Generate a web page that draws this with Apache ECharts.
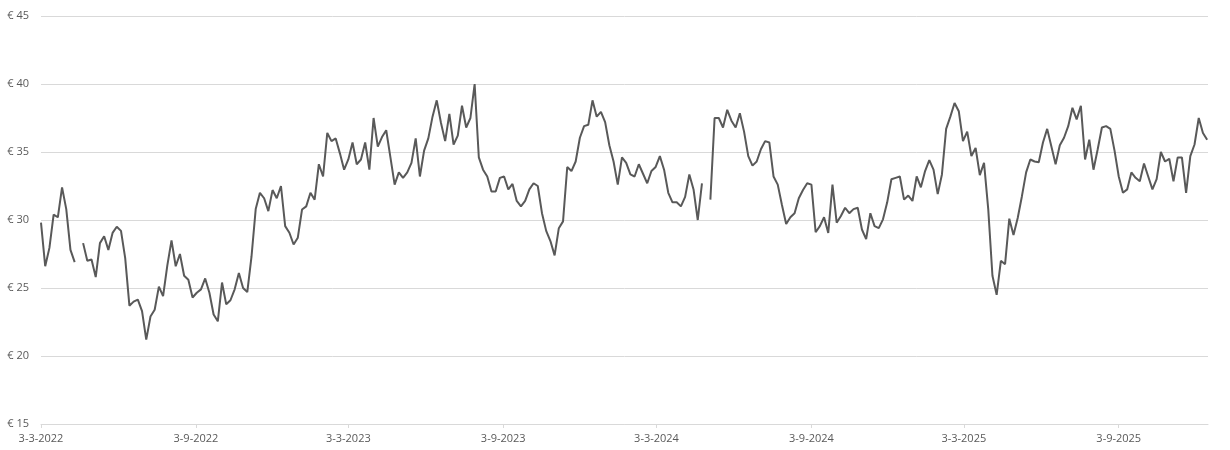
<!DOCTYPE html>
<html>
<head>
<meta charset="utf-8">
<script src="https://cdn.jsdelivr.net/npm/echarts@6/dist/echarts.min.js"></script>
<style>
  body { margin: 0; background: #fff; }
  #main { width: 1230px; height: 450px; }
</style>
</head>
<body>
<div id="main"></div>
<script>
// price every 5 days starting 3-3-2022 (null = no quote)
const startDate = '2022-03-03';
const endDate = '2025-12-18';
const stepDays = 5;
const tickDates = ['2022-03-03', '2022-09-03', '2023-03-03', '2023-09-03',
                   '2024-03-03', '2024-09-03', '2025-03-03', '2025-09-03'];
const yTicks = [15, 20, 25, 30, 35, 40, 45];

const prices2022 = [
    29.8, 26.6, 27.95, 30.4, 30.2, 32.4, 30.8, 27.8, 26.9, null,
    28.3, 27.0, 27.1, 25.8, 28.3, 28.8, 27.8, 29.05, 29.5, 29.2,
    27.2, 23.7, 24.0, 24.15, 23.3, 21.2, 22.9, 23.4, 25.1, 24.4,
    26.65, 28.5, 26.6, 27.5, 25.9, 25.6, 24.3, 24.65, 24.9, 25.7,
    24.65, 23.05, 22.55, 25.4, 23.8, 24.1, 24.9, 26.1, 25.0, 24.7,
    27.3, 30.8, 32.0, 31.6, 30.65, 32.2, 31.6, 32.5, 29.55, 29.06,
    28.2, 28.7, 30.77, 31.0, 32.0, 31.5, 34.1, 33.2, 36.4, 35.8
];
const prices2023 = [
    36.0, 34.9, 33.7, 34.45, 35.7, 34.1, 34.45, 35.7, 33.7, 37.5,
    35.4, 36.1, 36.6, 34.6, 32.6, 33.5, 33.1, 33.5, 34.2, 36.0,
    33.2, 35.1, 36.0, 37.6, 38.8, 37.15, 35.8, 37.8, 35.55, 36.2,
    38.4, 36.8, 37.5, 40.0, 34.6, 33.7, 33.2, 32.1, 32.1, 33.1,
    33.2, 32.25, 32.65, 31.4, 31.0, 31.4, 32.25, 32.7, 32.5, 30.5,
    29.2, 28.45, 27.4, 29.4, 29.9, 33.9, 33.6, 34.3, 36.05, 36.9,
    37.0, 38.8, 37.6, 37.95, 37.2, 35.5, 34.3, 32.6, 34.6, 34.2
];
const prices2024 = [
    33.35, 33.2, 34.1, 33.4, 32.7, 33.6, 33.9, 34.7, 33.7, 32.0,
    31.3, 31.3, 31.0, 31.7, 33.35, 32.25, 30.0, 32.7, null, 31.5,
    37.5, 37.5, 36.8, 38.1, 37.3, 36.8, 37.85, 36.5, 34.7, 34.0,
    34.3, 35.2, 35.8, 35.7, 33.2, 32.6, 31.1, 29.7, 30.2, 30.5,
    31.6, 32.2, 32.7, 32.6, 29.1, 29.55, 30.2, 29.05, 32.6, 29.8,
    30.3, 30.9, 30.5, 30.8, 30.9, 29.3, 28.6, 30.5, 29.55, 29.4,
    30.05, 31.3, 33.0, 33.1, 33.2, 31.5, 31.8, 31.4, 33.2, 32.4
];
const prices2025 = [
    33.6, 34.4, 33.7, 31.9, 33.35, 36.7, 37.6, 38.6, 38.0, 35.8,
    36.5, 34.7, 35.3, 33.3, 34.2, 30.8, 25.9, 24.5, 27.0, 26.75,
    30.1, 28.9, 30.15, 31.75, 33.5, 34.45, 34.3, 34.25, 35.7, 36.7,
    35.4, 34.1, 35.5, 36.05, 36.9, 38.25, 37.4, 38.4, 34.45, 35.9,
    33.7, 35.2, 36.8, 36.9, 36.7, 35.1, 33.2, 32.0, 32.25, 33.5,
    33.1, 32.85, 34.15, 33.2, 32.25, 33.0, 35.0, 34.3, 34.5, 32.85,
    34.6, 34.6, 32.0, 34.7, 35.55, 37.5, 36.4, 35.9
];

const DAY = 86400000;
function toDate(s) {
    const [y, m, d] = s.split('-').map(Number);
    return new Date(y, m - 1, d);
}
// days since the start date
function dayOf(s) {
    return Math.round((toDate(s) - toDate(startDate)) / DAY);
}

const prices = prices2022.concat(prices2023, prices2024, prices2025);
const seriesData = prices.map((p, i) => [i * stepDays, p]);
const tickDays = tickDates.map(dayOf);

const chart = echarts.init(document.getElementById('main'));

const labelFont = {
    color: '#595959',
    fontSize: 11,
    fontFamily: 'Open Sans'
};

option = {
    animation: false,
    grid: {
        left: 41,
        right: 22,
        top: 16,
        bottom: 26
    },
    xAxis: {
        type: 'value',
        min: 0,
        max: dayOf(endDate),
        axisLine: { show: true, lineStyle: { color: '#d9d9d9', width: 1 } },
        axisTick: {
            show: true,
            customValues: tickDays,
            length: 4,
            lineStyle: { color: '#d9d9d9' }
        },
        axisLabel: {
            ...labelFont,
            margin: 9,
            customValues: tickDays,
            formatter: (v) => {
                const d = toDate(startDate);
                d.setDate(d.getDate() + v);
                return `${d.getDate()}-${d.getMonth() + 1}-${d.getFullYear()}`;
            }
        },
        splitLine: { show: false }
    },
    yAxis: {
        type: 'value',
        min: yTicks[0],
        max: yTicks[yTicks.length - 1],
        interval: 5,
        axisLine: { show: false },
        axisTick: { show: false },
        axisLabel: {
            ...labelFont,
            margin: 12,
            formatter: (v) => `€ ${v}`
        },
        splitLine: { lineStyle: { color: '#d9d9d9', width: 1 } }
    },
    series: [
        {
            name: 'Koers',
            type: 'line',
            data: seriesData,
            showSymbol: false,
            connectNulls: false,
            lineStyle: { color: '#595959', width: 2 },
            itemStyle: { color: '#595959' }
        }
    ]
};

chart.setOption(option);
</script>
</body>
</html>
